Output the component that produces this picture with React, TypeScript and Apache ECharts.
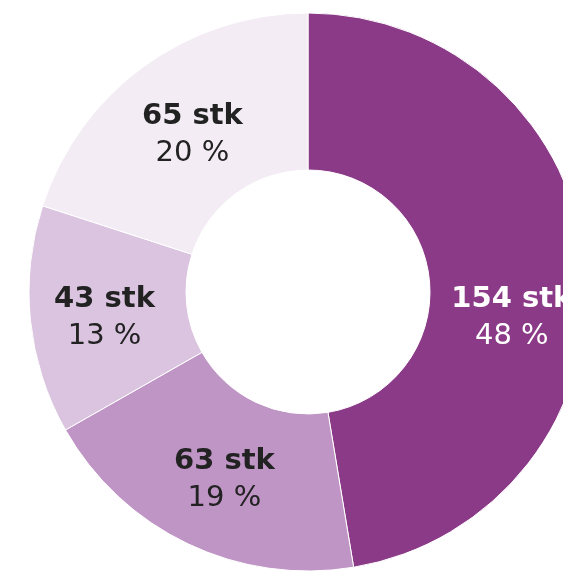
import React, { useEffect, useRef } from "react";
import * as echarts from "echarts";

const categories = ["A", "B", "C", "D"];
const values = [154, 63, 43, 65];
const percentLabels = ["48 %", "19 %", "13 %", "20 %"];
const colors = ["#8B3A87", "#BF95C5", "#DAC4E0", "#F3ECF4"];
const textColors = ["#FFFFFF", "#222222", "#222222", "#222222"];
const labelOffsets = [[1, 40], [4, 2], [-1, 3], [4, 5]];

export default function App() {
  const ref = useRef<HTMLDivElement>(null);
  useEffect(() => {
    if (!ref.current) return;
    const chart = echarts.init(ref.current, undefined, { renderer: "svg" });
    const font = "'DejaVu Sans', sans-serif";
    const data = values.map((v, i) => ({
      name: categories[i],
      value: v,
      itemStyle: { color: colors[i] },
      label: {
        color: textColors[i],
        offset: labelOffsets[i],
        formatter: `{b|${v} stk}\n{p|${percentLabels[i]}}`,
        rich: {
          b: { fontSize: 29, fontWeight: "bold", color: textColors[i], fontFamily: font, lineHeight: 37 },
          p: { fontSize: 29, fontWeight: "normal", color: textColors[i], fontFamily: font, lineHeight: 37 },
        },
      },
    }));
    chart.setOption({
      animation: false,
      series: [
        {
          type: "pie",
          center: [308, 292],
          radius: [122, 279],
          startAngle: 90,
          clockwise: true,
          avoidLabelOverlap: false,
          itemStyle: { borderColor: "#ffffff", borderWidth: 1 },
          label: { show: true, position: "inside", fontFamily: font },
          labelLine: { show: false },
          emphasis: { disabled: true },
          data,
        },
      ],
    });
    return () => chart.dispose();
  }, []);
  return (
    <div
      ref={ref}
      style={{ position: "fixed", left: 0, top: 0, width: 563, height: 571 }}
    />
  );
}
